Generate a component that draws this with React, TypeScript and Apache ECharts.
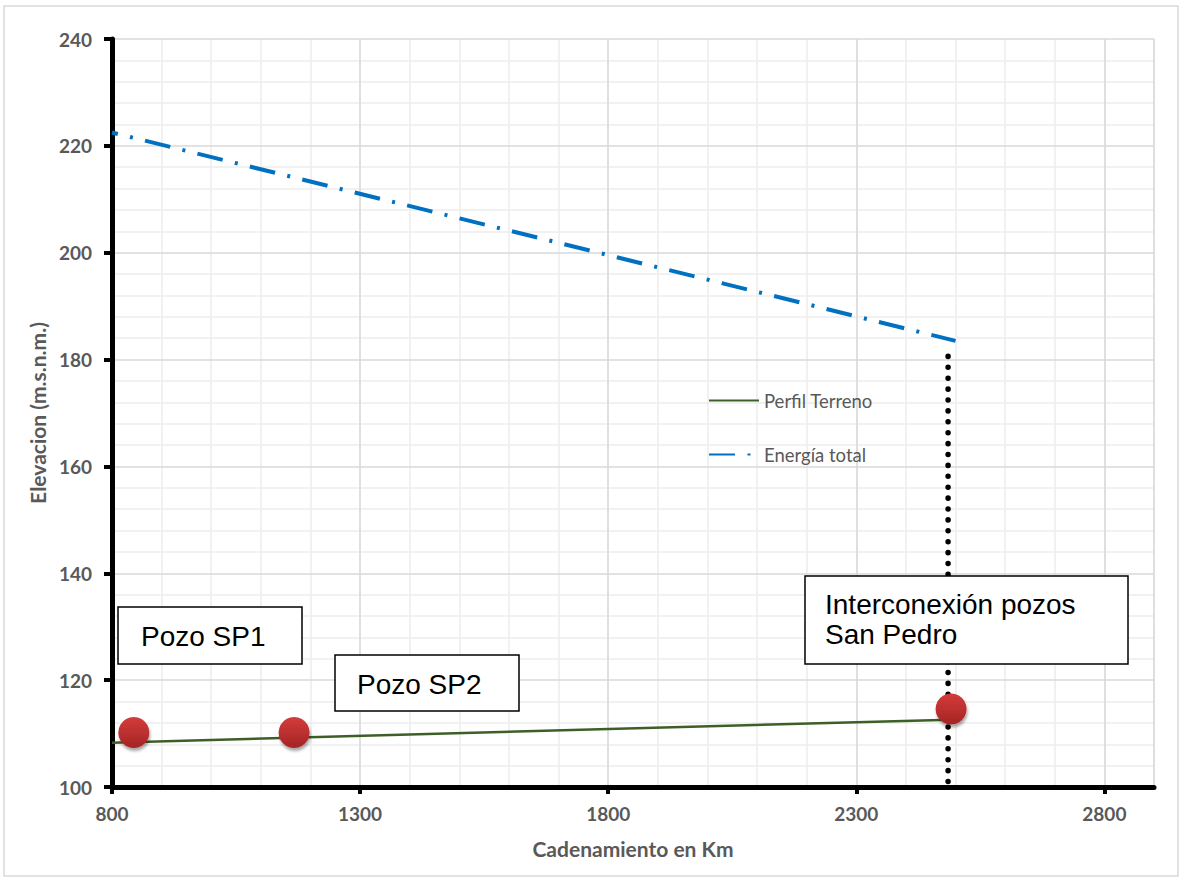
import React, { useEffect, useRef } from "react";
import * as echarts from "echarts";

// ---- data ----
const xMin = 800;
const xMax = 2900;
const xMajor = 500;
const xMinorStep = 100;
const yMin = 100;
const yMax = 240;
const yMajor = 20;

const perfilName = "Perfil Terreno";
const perfilX = [800, 2490];
const perfilY = [108.3, 112.6];

const energiaName = "Energía total";
const energiaX = [800, 2500];
const energiaY = [222.5, 183.5];

const pozoX = [844, 1167, 2491];
const pozoY = [110.2, 110.2, 114.6];

const verticalX = [2485, 2485];
const verticalY = [180.6, 100];

const boxLabels = ["Pozo SP1", "Pozo SP2", "Interconexión pozos\nSan Pedro"];

const xTitle = "Cadenamiento en Km";
const yTitle = "Elevacion (m.s.n.m.)";

const pairs = (xs: number[], ys: number[]) => xs.map((x, i) => [x, ys[i]]);

export default function App() {
  const ref = useRef<HTMLDivElement>(null);
  useEffect(() => {
    document.body.style.margin = "0";
    const chart = echarts.init(ref.current!, null, { renderer: "svg" });
    const labelFont = { color: "#595959", fontWeight: "bold" as const, fontFamily: "Lato", fontSize: 19 };
    const titleFont = { color: "#595959", fontWeight: "bold" as const, fontFamily: "Lato", fontSize: 21 };
    const boxFont = '28px "Liberation Sans", Arial, sans-serif';
    const boxes = [
      { x: 118, y: 607, w: 184, h: 57, tx: 141, ty: 636 },
      { x: 335, y: 655, w: 184, h: 56, tx: 357, ty: 684 },
      { x: 805, y: 576, w: 323, h: 88, tx: 825, ty: 619 },
    ];
    const graphics: any[] = [
      {
        type: "rect",
        z: 0,
        silent: true,
        shape: { x: 4, y: 6, width: 1174, height: 870 },
        style: { fill: "none", stroke: "#d9d9d9", lineWidth: 1.5 },
      },
    ];
    boxes.forEach((b, i) => {
      graphics.push({
        type: "rect",
        z: 100,
        shape: { x: b.x, y: b.y, width: b.w, height: b.h },
        style: { fill: "#ffffff", stroke: "#000000", lineWidth: 1.5, opacity: 1 },
      });
      graphics.push({
        type: "text",
        z: 101,
        x: b.tx,
        y: b.ty,
        style: {
          text: boxLabels[i],
          font: boxFont,
          fill: "#000000",
          align: "left",
          verticalAlign: "middle",
          lineHeight: 30,
        },
      });
    });
    chart.setOption({
      animation: false,
      backgroundColor: "#ffffff",
      grid: { left: 112, top: 39, right: 28, bottom: 93 },
      legend: {
        left: 703,
        top: 386,
        orient: "vertical",
        itemWidth: 50,
        itemHeight: 14,
        itemGap: 35,
        data: [perfilName, energiaName],
        itemStyle: { opacity: 0 },
        lineStyle: { dashOffset: 0 },
        textStyle: { color: "#595959", fontFamily: "Lato", fontSize: 18.5 },
      },
      xAxis: [
        {
          type: "value",
          min: xMin,
          max: xMax,
          interval: xMajor,
          z: 3,
          axisLine: { show: true, onZero: false, lineStyle: { color: "#000", width: 5 } },
          axisTick: { show: true, length: 7, lineStyle: { color: "#000", width: 4 } },
          axisLabel: { ...labelFont, margin: 17, showMaxLabel: false, formatter: (v: number) => String(v) },
          splitLine: { show: true, lineStyle: { color: "#d9d9d9", width: 1.5 } },
          name: xTitle,
          nameLocation: "middle",
          nameGap: 51,
          nameTextStyle: titleFont,
        },
        {
          type: "value",
          min: xMin,
          max: xMax,
          interval: xMinorStep,
          position: "bottom",
          z: 0,
          axisLine: { show: false },
          axisTick: { show: false },
          axisLabel: { show: false },
          splitLine: { show: true, lineStyle: { color: "#ededed", width: 1.5 } },
        },
      ],
      yAxis: {
        type: "value",
        min: yMin,
        max: yMax,
        interval: yMajor,
        z: 3,
        axisLine: { show: true, onZero: false, lineStyle: { color: "#000", width: 5 } },
        axisTick: { show: true, length: 8, lineStyle: { color: "#000", width: 4 } },
        axisLabel: { ...labelFont, margin: 20, formatter: (v: number) => String(v) },
        splitLine: { show: true, lineStyle: { color: "#d9d9d9", width: 1.5 } },
        minorTick: { show: false, splitNumber: 5 },
        minorSplitLine: { show: true, lineStyle: { color: "#ededed", width: 1.5 } },
        name: yTitle,
        nameLocation: "middle",
        nameGap: 64,
        nameTextStyle: titleFont,
      },
      series: [
        {
          name: perfilName,
          type: "line",
          data: pairs(perfilX, perfilY),
          symbol: "none",
          lineStyle: { color: "#3d5f27", width: 2.5 },
          itemStyle: { color: "#3d5f27" },
          z: 3,
        },
        {
          name: energiaName,
          type: "line",
          data: pairs(energiaX, energiaY),
          symbol: "none",
          lineStyle: { color: "#0070c0", width: 4, type: [26, 12.5, 3, 12.5], dashOffset: 20 },
          itemStyle: { color: "#0070c0" },
          z: 3,
        },
        {
          name: "vertical",
          type: "line",
          data: pairs(verticalX, verticalY),
          symbol: "none",
          clip: false,
          lineStyle: { color: "#000", width: 5.5, type: [0.1, 10.8], cap: "round" },
          z: 4,
        },
        {
          name: "pozos",
          type: "scatter",
          data: pairs(pozoX, pozoY),
          symbolSize: 31,
          z: 6,
          itemStyle: {
            opacity: 1,
            color: new echarts.graphic.LinearGradient(0, 0, 0, 1, [
              { offset: 0, color: "#d43c3c" },
              { offset: 1, color: "#a42424" },
            ]),
            shadowColor: "rgba(0,0,0,0.35)",
            shadowBlur: 3,
            shadowOffsetX: 1,
            shadowOffsetY: 3,
          },
        },
      ],
      graphic: graphics,
    });
    return () => chart.dispose();
  }, []);
  return <div ref={ref} style={{ width: 1182, height: 880 }} />;
}
